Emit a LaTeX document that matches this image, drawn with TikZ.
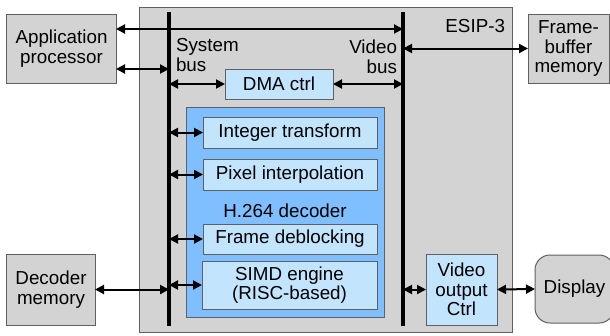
\documentclass[tikz,border=0pt]{standalone}
\usepackage{fontspec}
\setmainfont{Liberation Sans}
\usetikzlibrary{arrows.meta}
\definecolor{boxgray}{HTML}{D3D3D3}
\definecolor{edgegray}{HTML}{606060}
\definecolor{decblue}{HTML}{80BFFF}
\definecolor{unitblue}{HTML}{C2E4FC}
\tikzset{
  every node/.style={font=\fontsize{18.8bp}{19.5bp}\selectfont, inner sep=0pt, outer sep=0pt},
  graybox/.style={draw=edgegray, line width=1bp, fill=boxgray, align=center},
  unitbox/.style={draw=edgegray, line width=1bp, fill=unitblue, align=center},
  decbox/.style={draw=edgegray, line width=1bp, fill=decblue},
  busline/.style={line width=3.2bp, black},
  link/.style={line width=2bp, black, {Triangle[length=9bp,width=9bp]}-{Triangle[length=9bp,width=9bp]}},
}
\begin{document}
\begin{tikzpicture}[x=1bp, y=-1bp]
\useasboundingbox (0,0) rectangle (610,335);

% chip outline
\node[graybox, minimum width=373bp, minimum height=325bp] (esip) at (325.5,169.5) {};
\node[anchor=east] (esiplbl) at (505,26) {ESIP-3};

% external blocks
\node[graybox, minimum width=109bp, minimum height=69bp] (app) at (61.5,48.5) {Application\\processor};
\node[graybox, minimum width=81bp, minimum height=69bp] (fb) at (568.5,48.5) {Frame-\\buffer\\memory};
\node[graybox, minimum width=88bp, minimum height=71bp] (decmem) at (51,289.5) {Decoder\\memory};
\node[graybox, rounded corners=15bp, minimum width=79bp, minimum height=68bp] (disp) at (574.5,289) {Display};

% on-chip blocks
\node[unitbox, minimum width=108bp, minimum height=30bp] (dma) at (279,84) {DMA ctrl};
\node[decbox, minimum width=198bp, minimum height=210bp] (h264) at (285,212) {};
\node (h264lbl) at (285,211) {H.264 decoder};
\node[unitbox, minimum width=174bp, minimum height=31bp] (int) at (290,132.5) {Integer transform};
\node[unitbox, minimum width=174bp, minimum height=31bp] (pix) at (290,174.5) {Pixel interpolation};
\node[unitbox, minimum width=174bp, minimum height=30bp] (fdb) at (290,239) {Frame deblocking};
\node[unitbox, minimum width=175bp, minimum height=48bp] (simd) at (289.5,285) {SIMD engine\\(RISC-based)};
\node[unitbox, minimum width=71bp, minimum height=71bp] (voc) at (461.5,289.5) {Video\\output\\Ctrl};

% buses
\coordinate (sbtop) at (169,12);
\coordinate (sbbot) at (169,326);
\coordinate (vbtop) at (403,12);
\coordinate (vbbot) at (403,326);
\coordinate (vtap) at (403,29);
\coordinate (stap) at (169,69);

\node[anchor=west, align=left] (sblbl) at (176,55) {System\\bus};
\node[anchor=east, align=right] (vblbl) at (397,57) {Video\\bus};

% connectors
\draw[link] (app.east |- vtap) -- (vtap);
\draw[link] (app.east |- stap) -- (stap);
\draw[link] (dma.west -| sbtop) -- (dma.west);
\draw[link] (dma.east) -- (dma.east -| vbtop);
\draw[link] (int.west -| sbtop) -- (int.west);
\draw[link] (pix.west -| sbtop) -- (pix.west);
\draw[link] (fdb.west -| sbtop) -- (fdb.west);
\draw[link] (simd.west -| sbtop) -- (simd.west);
\draw[link] (decmem.east) -- (decmem.east -| sbtop);
\draw[link] (fb.west -| vbtop) -- (fb.west);
\draw[link] (voc.west -| vbtop) -- (voc.west);
\draw[link] (voc.east) -- (disp.west);

\draw[busline] (sbtop) -- (sbbot);
\draw[busline] (vbtop) -- (vbbot);
\end{tikzpicture}
\end{document}
